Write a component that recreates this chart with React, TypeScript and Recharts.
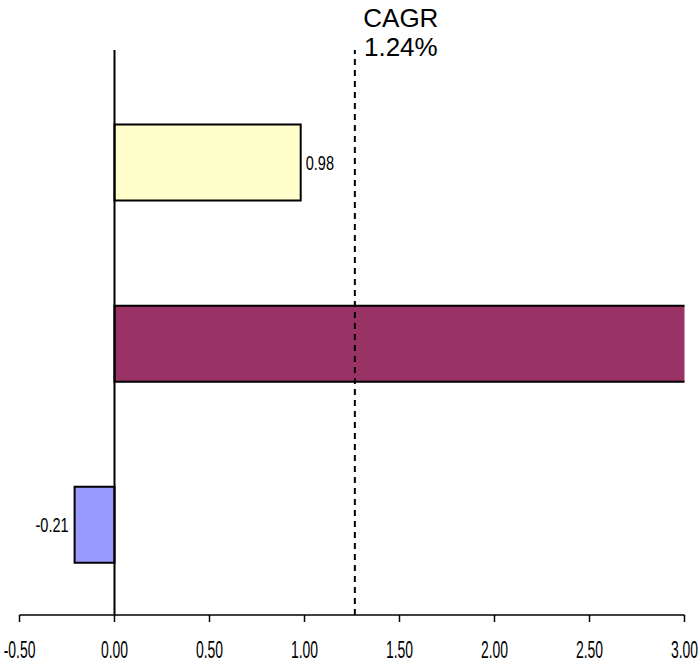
import React from "react";
import {
  Bar,
  BarChart,
  Cell,
  LabelList,
  ReferenceLine,
  XAxis,
  YAxis,
} from "recharts";

const categories = ["Group A", "Group B", "Group C"];
const values = [0.98, 3.45, -0.21];
const barColors = ["#FFFFCC", "#993366", "#9999FF"];
const xTicks = [-0.5, 0, 0.5, 1, 1.5, 2, 2.5, 3];
const cagrValue = 1.24;
const cagrLinePos = 1.265;

const data = categories.map((name, i) => ({ name, value: values[i] }));

const font = "'Liberation Sans', Arial, sans-serif";

function XTick(props: any) {
  const { x, payload } = props;
  // baseline sits a fixed distance under the axis line
  return (
    <g transform={`translate(${x},658) scale(0.82,1.38)`}>
      <text x={0} y={0} textAnchor="middle" fontFamily={font} fontSize={17} fill="#000">
        {Number(payload.value).toFixed(2)}
      </text>
    </g>
  );
}

function BarValue(props: any) {
  const { x, y, width, height, value } = props;
  if (value > xTicks[xTicks.length - 1]) return null;
  const left = Math.min(x, x + width);
  const right = Math.max(x, x + width);
  const cy = y + height / 2;
  const neg = value < 0;
  const px = neg ? left - 6 : right + 5;
  return (
    <g transform={`translate(${px},${cy}) scale(0.88,1.25)`}>
      <text
        x={0}
        y={6}
        textAnchor={neg ? "end" : "start"}
        fontFamily={font}
        fontSize={16.5}
        fill="#000"
      >
        {value.toFixed(2)}
      </text>
    </g>
  );
}

function CagrLabel(props: any) {
  const { viewBox } = props;
  const cx = viewBox.x + 46;
  return (
    <g>
      <text x={cx} y={viewBox.y - 23} textAnchor="middle" fontFamily={font} fontSize={26} fill="#000">
        CAGR
      </text>
      <text x={cx} y={viewBox.y + 6} textAnchor="middle" fontFamily={font} fontSize={26} fill="#000">
        {cagrValue.toFixed(2)}%
      </text>
    </g>
  );
}

export default function App() {
  return (
    <div style={{ position: "absolute", left: 0, top: 0, background: "#fff" }}>
      <BarChart
        width={700}
        height={664}
        data={data}
        layout="vertical"
        margin={{ top: 50, right: 15.5, bottom: 19, left: 19.5 }}
      >
        <XAxis
          type="number"
          domain={[-0.5, 3]}
          ticks={xTicks}
          allowDataOverflow
          height={30}
          axisLine={{ stroke: "#000", strokeWidth: 1.5 }}
          tickLine={{ stroke: "#000", strokeWidth: 1.5 }}
          tickSize={7}
          tick={<XTick />}
        />
        <YAxis
          type="category"
          dataKey="name"
          hide
          padding={{ top: 21.5, bottom: 0 }}
        />
        <Bar
          dataKey="value"
          barSize={76}
          stroke="#000"
          strokeWidth={2}
          isAnimationActive={false}
        >
          {data.map((d, i) => (
            <Cell key={d.name} fill={barColors[i]} />
          ))}
          <LabelList dataKey="value" content={<BarValue />} />
        </Bar>
        <ReferenceLine x={0} stroke="#000" strokeWidth={2} />
        <ReferenceLine
          x={cagrLinePos}
          stroke="#000"
          strokeWidth={2}
          strokeDasharray="6 5"
          label={<CagrLabel />}
        />
      </BarChart>
    </div>
  );
}
